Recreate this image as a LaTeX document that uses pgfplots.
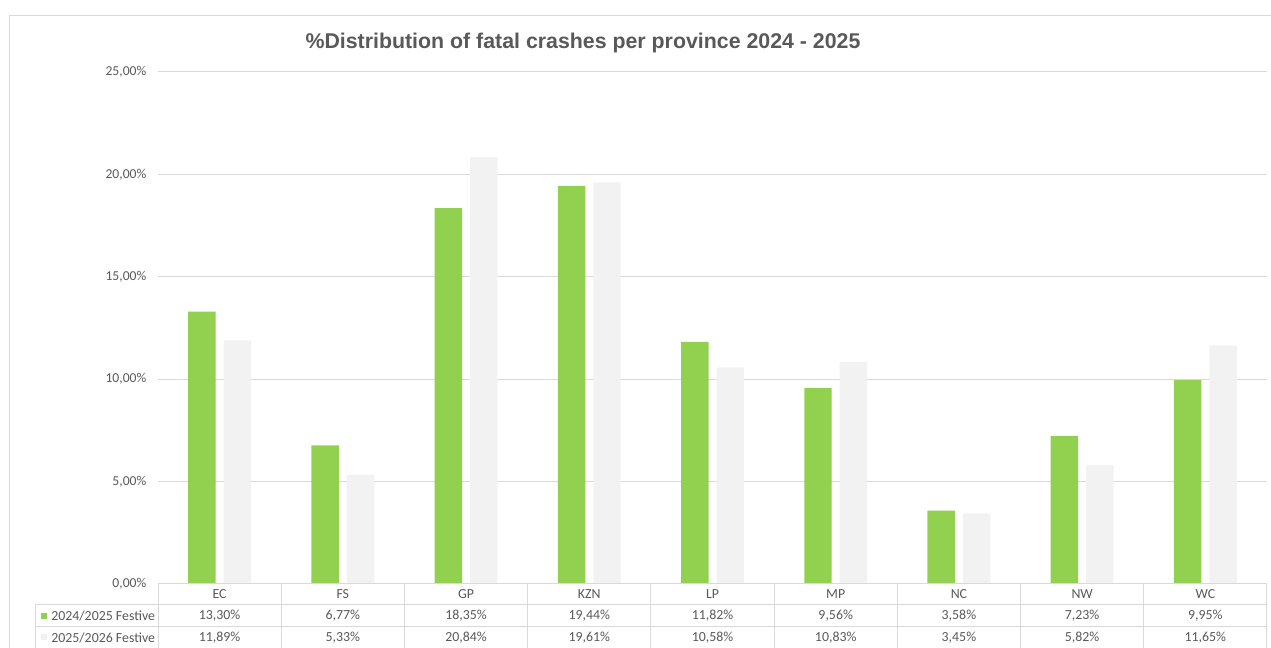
\documentclass[border=0pt]{standalone}
\usepackage{pgfplots}
\pgfplotsset{compat=1.18}
\usepackage{fontspec}
\setmainfont{Carlito}
\newfontfamily\titlefont{Liberation Sans}
\definecolor{grn}{HTML}{92D050}
\definecolor{lgr}{HTML}{F2F2F2}
\definecolor{gridc}{HTML}{D9D9D9}
\definecolor{txt}{HTML}{595959}
\begin{document}
\begin{tikzpicture}[x=0.75pt,y=0.75pt]
\useasboundingbox (0,0) rectangle (1271,648);
\draw[gridc, line width=0.75pt] (9,0) -- (9,632) -- (1271,632);
\node[font=\titlefont\bfseries\fontsize{16}{19}\selectfont, text=txt] at (583,605) {\%Distribution of fatal crashes per province 2024 - 2025};
\begin{axis}[
  at={(118.5pt,48pt)}, anchor=south west,
  scale only axis, width=831.75pt, height=384pt,
  xmin=-0.5, xmax=8.5, ymin=0, ymax=25,
  ybar=6pt, bar width=20.6pt,
  axis line style={draw=none},
  major tick style={draw=none},
  xtick=\empty,
  ytick={0,5,10,15,20,25},
  yticklabels={{0,00\%},{5,00\%},{10,00\%},{15,00\%},{20,00\%},{25,00\%}},
  yticklabel style={font=\fontsize{10.2}{12}\selectfont, text=txt, xshift=-5.25pt},
  ymajorgrids, grid style={gridc, line width=0.75pt},
  clip=false,
]
\addplot[fill=grn, draw=none] coordinates {(0,13.30) (1,6.77) (2,18.35) (3,19.44) (4,11.82) (5,9.56) (6,3.58) (7,7.23) (8,9.95)};
\addplot[fill=lgr, draw=none] coordinates {(0,11.89) (1,5.33) (2,20.84) (3,19.61) (4,10.58) (5,10.83) (6,3.45) (7,5.82) (8,11.65)};
\end{axis}
% data table
\begin{scope}[gridc, line width=0.75pt]
\draw (158,64) -- (1267,64);
\draw (35,43) -- (1267,43);
\draw (35,21) -- (1267,21);
\draw (35,43) -- (35,0);
\foreach \k in {0,...,9} {\draw ({158+123.22*\k},64) -- ({158+123.22*\k},0);}
\end{scope}
\begin{scope}[font=\fontsize{10.4}{12}\selectfont, text=txt]
\foreach \lab [count=\i from 0] in {EC,FS,GP,KZN,LP,MP,NC,NW,WC}
  {\node at ({158+123.22*(\i+0.5)},53.5) {\lab};}
\foreach \v [count=\i from 0] in {{13,30\%},{6,77\%},{18,35\%},{19,44\%},{11,82\%},{9,56\%},{3,58\%},{7,23\%},{9,95\%}}
  {\node at ({158+123.22*(\i+0.5)},32) {\v};}
\foreach \v [count=\i from 0] in {{11,89\%},{5,33\%},{20,84\%},{19,61\%},{10,58\%},{10,83\%},{3,45\%},{5,82\%},{11,65\%}}
  {\node at ({158+123.22*(\i+0.5)},10.5) {\v};}
\fill[grn] (40.5,29) rectangle (46.5,35);
\fill[lgr] (40.5,7.5) rectangle (46.5,13.5);
\node[anchor=west, inner sep=0pt] at (51,32) {2024/2025 Festive};
\node[anchor=west, inner sep=0pt] at (51,10.5) {2025/2026 Festive};
\end{scope}
\end{tikzpicture}
\end{document}
